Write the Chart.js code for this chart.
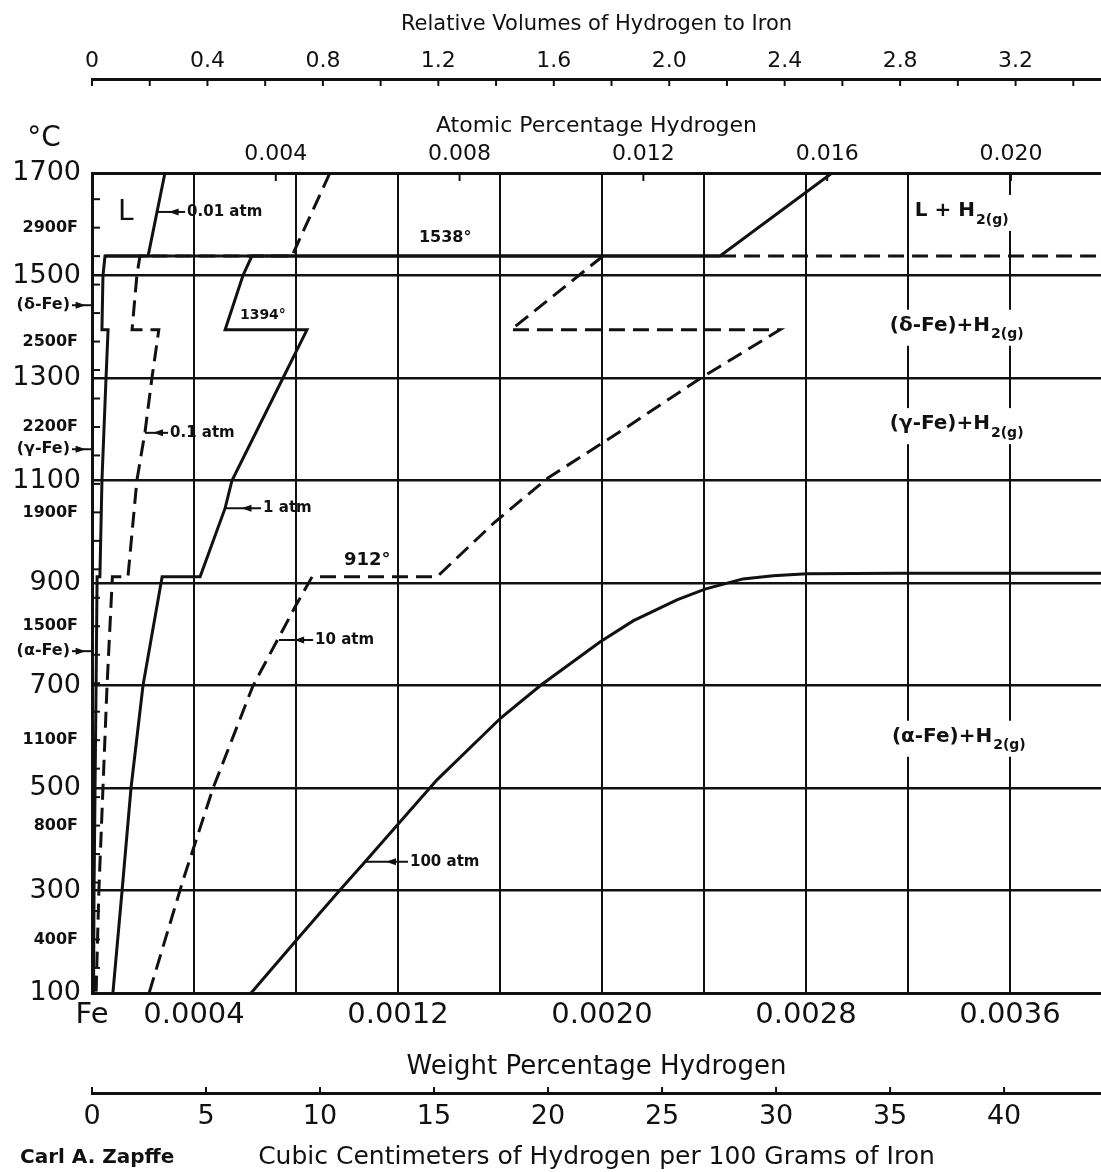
<!DOCTYPE html>
<html>
<head>
<meta charset="utf-8">
<title>Solubility of hydrogen in iron</title>
<script src="https://cdn.jsdelivr.net/npm/chart.js@4.4.1/dist/chart.umd.min.js"></script>
<style>
  html, body { margin: 0; padding: 0; background: #fff; }
  #wrap { width: 1101px; height: 1172px; position: relative; }
</style>
</head>
<body>
<div id="wrap"><canvas id="chart"></canvas></div>
<script>
const INK = '#111';
const FONT = '"DejaVu Sans", Lato, sans-serif';

// --- axis ranges and tick labels ---
const weightMax = 0.003957;   // weight % H at the right edge of the frame
const weightTicks = [0, 0.0004, 0.0008, 0.0012, 0.0016, 0.0020, 0.0024, 0.0028, 0.0032, 0.0036];
const weightLabels = ['Fe', '0.0004', '', '0.0012', '', '0.0020', '', '0.0028', '', '0.0036'];
const atomicMax = 0.02196;
const atomicTicks = [0.004, 0.008, 0.012, 0.016, 0.020];
const atomicLabels = ['0.004', '0.008', '0.012', '0.016', '0.020'];
const volumeMax = 3.496;
const volumeTicks = [0, 0.2, 0.4, 0.6, 0.8, 1.0, 1.2, 1.4, 1.6, 1.8, 2.0, 2.2, 2.4, 2.6, 2.8, 3.0, 3.2, 3.4];
const volumeLabels = ['0', '', '0.4', '', '0.8', '', '1.2', '', '1.6', '', '2.0', '', '2.4', '', '2.8', '', '3.2', ''];
const ccMax = 44.25;
const ccTicks = [0, 5, 10, 15, 20, 25, 30, 35, 40];
const ccLabels = ['0', '5', '10', '15', '20', '25', '30', '35', '40'];
const tempTicks = [100, 300, 500, 700, 900, 1100, 1300, 1500, 1700];
const fahrTicks = [400, 800, 1100, 1500, 1900, 2200, 2500, 2900];
const fahrMinor = [300, 400, 500, 600, 700, 800, 900, 1000, 1100, 1200, 1300, 1400, 1500, 1600,
                   1700, 1800, 1900, 2000, 2100, 2200, 2300, 2400, 2500, 2600, 2700, 2800, 2900, 3000];

// --- isobars: weight % H against temperature (°C) ---
const p001W = [0.000286, 0.000220, 0.000051, 0.000043, 0.000039, 0.000063, 0.000055, 0.000039, 0.000031, 0.000020, 0.000016, 0.000012, 0.000008, 0.000006];
const p001T = [1700, 1538, 1538, 1500, 1394, 1394, 1300, 1100, 912, 912, 700, 500, 300, 100];

const p01W = [0.000933, 0.000784, 0.000188, 0.000176, 0.000157, 0.000262, 0.000235, 0.000208, 0.000176, 0.000141, 0.000080, 0.000059, 0.000043, 0.000027, 0.000016];
const p01T = [1700, 1538, 1538, 1500, 1394, 1394, 1300, 1195, 1100, 912, 912, 700, 500, 300, 100];

const p1W = [0.002902, 0.002463, 0.000627, 0.000592, 0.000522, 0.000843, 0.000749, 0.000549, 0.000522, 0.000424, 0.000275, 0.000200, 0.000153, 0.000118, 0.000082];
const p1T = [1700, 1538, 1538, 1500, 1394, 1394, 1300, 1100, 1046, 912, 912, 700, 500, 300, 100];

const p10W = [0.002004, 0.001643, 0.002698, 0.002388, 0.002079, 0.001788, 0.001580, 0.001353, 0.000863, 0.000796, 0.000631, 0.000475, 0.000357, 0.000224];
const p10T = [1538, 1394, 1394, 1300, 1198, 1105, 1019, 912, 912, 853, 699, 500, 320, 100];

const p100W = [0.003960, 0.003169, 0.002804, 0.002671, 0.002553, 0.002404, 0.002294, 0.002122, 0.001992, 0.001761, 0.001604, 0.001353, 0.001071, 0.000969, 0.000808, 0.000624];
const p100T = [919, 919, 918, 914, 908, 888, 867, 826, 785, 701, 637, 516, 356, 299, 207, 100];

// melting isotherm: solid part, then dashed to the edge
const melt = 1538;
const meltSolidW = [0.000051, 0.002463];
const meltDashW = [0.002463, 0.003960];

// --- notes ---
const curveNotes = [
  { text: '0.01 atm', w: 0.000373, t: 1624, from: 0.000259 },
  { text: '0.1 atm', w: 0.000306, t: 1193, from: 0.000208 },
  { text: '1 atm', w: 0.000671, t: 1046, from: 0.000522 },
  { text: '10 atm', w: 0.000875, t: 789, from: 0.000733 },
  { text: '100 atm', w: 0.001247, t: 356, from: 0.001071 }
];
const plainNotes = [
  { text: 'L', w: 0.000102, t: 1622, size: 28, bold: false },
  { text: '1538°', w: 0.001282, t: 1573, size: 16, bold: true },
  { text: '1394°', w: 0.000580, t: 1423, size: 14, bold: true },
  { text: '912°', w: 0.000988, t: 945, size: 18, bold: true }
];
const phaseNotes = [
  { main: 'L + H', w: 0.003227, t: 1626 },
  { main: '(δ-Fe)+H', w: 0.003129, t: 1402 },
  { main: '(γ-Fe)+H', w: 0.003129, t: 1210 },
  { main: '(α-Fe)+H', w: 0.003137, t: 600 }
];
const sideNotes = [
  { text: '(δ-Fe)', t: 1442 },
  { text: '(γ-Fe)', t: 1161 },
  { text: '(α-Fe)', t: 767 }
];

function pts(ws, ts) { return ws.map((w, i) => ({ x: w, y: ts[i] })); }
function line(data, dashed) {
  return {
    data, showLine: true, pointRadius: 0, borderColor: INK, borderWidth: 3,
    borderDash: dashed ? [16, 8] : [], fill: false, tension: 0
  };
}
function setTicks(values) { return s => { s.ticks = values.map(v => ({ value: v })); }; }
function font(size, bold) { return { family: FONT, size, weight: bold ? 'bold' : 'normal' }; }

// Fahrenheit labels share the column of the °C labels: right edge at x = 78
const fahrFont = `bold 16px ${FONT}`;
const measureCtx = document.createElement('canvas').getContext('2d');
measureCtx.font = fahrFont;
const fahrWidest = Math.max(...fahrTicks.map(v => measureCtx.measureText(v + 'F').width));

function leader(ctx, xTip, xTail, yy) {
  ctx.beginPath(); ctx.moveTo(xTail, yy); ctx.lineTo(xTip, yy); ctx.stroke();
  const dir = Math.sign(xTip - xTail);
  const hx = xTail + (xTip - xTail) * 0.35;
  ctx.beginPath();
  ctx.moveTo(hx + dir * 7, yy);
  ctx.lineTo(hx - dir * 3, yy - 3.5);
  ctx.lineTo(hx - dir * 3, yy + 3.5);
  ctx.closePath(); ctx.fill();
}

const extras = {
  id: 'extras',
  afterDraw(chart) {
    const { ctx, chartArea: a, scales: s } = chart;
    ctx.save();
    ctx.strokeStyle = INK;
    ctx.fillStyle = INK;
    ctx.lineWidth = 2;
    const seg = (x1, y1, x2, y2) => { ctx.beginPath(); ctx.moveTo(x1, y1); ctx.lineTo(x2, y2); ctx.stroke(); };

    // tick marks the library would draw on the wrong side
    s.xrv.ticks.forEach(t => { const px = s.xrv.getPixelForValue(t.value); seg(px, s.xrv.bottom, px, s.xrv.bottom + 7); });
    s.xat.ticks.forEach(t => { const px = s.xat.getPixelForValue(t.value); seg(px, a.top, px, a.top + 8); });
    s.xcc.ticks.forEach(t => { const px = s.xcc.getPixelForValue(t.value); seg(px, s.xcc.top, px, s.xcc.top - 6); });
    fahrMinor.forEach(f => { const py = s.yF.getPixelForValue(f); seg(a.left, py, a.left + 8, py); });

    ctx.textBaseline = 'middle';
    ctx.textAlign = 'left';

    // curve labels with leaders
    ctx.font = `bold 15px ${FONT}`;
    curveNotes.forEach(n => {
      const px = s.x.getPixelForValue(n.w), py = s.y.getPixelForValue(n.t);
      leader(ctx, s.x.getPixelForValue(n.from), px - 2, py);
      ctx.fillText(n.text, px, py);
    });

    plainNotes.forEach(n => {
      ctx.font = `${n.bold ? 'bold ' : ''}${n.size}px ${FONT}`;
      ctx.fillText(n.text, s.x.getPixelForValue(n.w), s.y.getPixelForValue(n.t));
    });

    // phase fields, with H2(g) subscript
    phaseNotes.forEach(n => {
      const px = s.x.getPixelForValue(n.w), py = s.y.getPixelForValue(n.t);
      ctx.font = `bold 20px ${FONT}`;
      const w1 = ctx.measureText(n.main).width;
      ctx.font = `bold 14px ${FONT}`;
      const w2 = ctx.measureText('2(g)').width;
      ctx.fillStyle = '#fff';
      ctx.fillRect(px - 4, py - 16, w1 + w2 + 10, 36);
      ctx.fillStyle = INK;
      ctx.font = `bold 20px ${FONT}`;
      ctx.fillText(n.main, px, py);
      ctx.font = `bold 14px ${FONT}`;
      ctx.fillText('2(g)', px + w1 + 1, py + 9);
    });

    // phase names beside the temperature axis
    ctx.font = `bold 16px ${FONT}`;
    ctx.textAlign = 'right';
    sideNotes.forEach(n => {
      const py = s.y.getPixelForValue(n.t);
      ctx.fillText(n.text, 70, py);
      leader(ctx, a.left - 1, 72, py);
    });

    ctx.textAlign = 'center';
    ctx.font = `28px ${FONT}`;
    ctx.fillText('°C', 44, 139);
    ctx.textAlign = 'left';
    ctx.font = `bold 20px ${FONT}`;
    ctx.fillText('Carl A. Zapffe', 20, 1158);
    ctx.restore();
  }
};

new Chart(document.getElementById('chart'), {
  type: 'scatter',
  data: {
    datasets: [
      line(pts(meltSolidW, [melt, melt]), false),
      line(pts(meltDashW, [melt, melt]), true),
      line(pts(p001W, p001T), false),
      line(pts(p01W, p01T), true),
      line(pts(p1W, p1T), false),
      line(pts(p10W, p10T), true),
      line(pts(p100W, p100T), false)
    ]
  },
  options: {
    responsive: true,
    maintainAspectRatio: false,
    animation: false,
    layout: { padding: 0 },
    plugins: { legend: { display: false }, tooltip: { enabled: false } },
    scales: {
      x: {
        type: 'linear', position: 'bottom', weight: 0, min: 0, max: weightMax,
        afterBuildTicks: setTicks(weightTicks),
        afterFit: s => { s.height = 100; },
        grid: { color: INK, lineWidth: 2, drawTicks: false },
        border: { display: true, color: INK, width: 3 },
        ticks: { autoSkip: false, maxRotation: 0, padding: 5, color: INK, font: font(29), callback: (v, i) => weightLabels[i] },
        title: { display: true, text: 'Weight Percentage Hydrogen', color: INK, font: font(26), padding: { top: 0, bottom: 10 } }
      },
      xcc: {
        type: 'linear', position: 'bottom', weight: 1, min: 0, max: ccMax,
        afterBuildTicks: setTicks(ccTicks),
        afterFit: s => { s.height = 79; },
        grid: { display: true, drawOnChartArea: false, drawTicks: false, color: INK },
        border: { display: true, color: INK, width: 3 },
        ticks: { autoSkip: false, maxRotation: 0, padding: 8, color: INK, font: font(27), callback: (v, i) => ccLabels[i] },
        title: { display: true, text: 'Cubic Centimeters of Hydrogen per 100 Grams of Iron', color: INK, font: font(25), padding: { top: 0, bottom: 0 } }
      },
      xat: {
        type: 'linear', position: 'top', weight: 0, min: 0, max: atomicMax,
        afterBuildTicks: setTicks(atomicTicks),
        afterFit: s => { s.height = 94; },
        grid: { display: true, drawOnChartArea: false, drawTicks: false, color: INK },
        border: { display: true, color: INK, width: 3 },
        ticks: { autoSkip: false, maxRotation: 0, padding: 6, color: INK, font: font(22), callback: (v, i) => atomicLabels[i] },
        title: { display: true, text: 'Atomic Percentage Hydrogen', color: INK, font: font(22), padding: { top: 34, bottom: 0 } }
      },
      xrv: {
        type: 'linear', position: 'top', weight: 1, min: 0, max: volumeMax,
        afterBuildTicks: setTicks(volumeTicks),
        afterFit: s => { s.height = 79; },
        grid: { display: true, drawOnChartArea: false, drawTicks: false, color: INK },
        border: { display: true, color: INK, width: 3 },
        ticks: { autoSkip: false, maxRotation: 0, padding: 5, color: INK, font: font(22), callback: (v, i) => volumeLabels[i] },
        title: { display: true, text: 'Relative Volumes of Hydrogen to Iron', color: INK, font: font(21), padding: { top: 12, bottom: 0 } }
      },
      y: {
        type: 'linear', position: 'left', weight: 1, min: 100, max: 1700,
        afterBuildTicks: setTicks(tempTicks),
        afterFit: s => { s.width = 92; },
        grid: { color: INK, lineWidth: 2.5, drawTicks: false },
        border: { display: true, color: INK, width: 3 },
        ticks: { autoSkip: false, padding: 11, color: INK, font: font(27), callback: v => String(v) }
      },
      yF: {
        type: 'linear', position: 'left', weight: 0, min: 212, max: 3092,
        afterBuildTicks: setTicks(fahrTicks),
        afterFit: s => { s.width = 0; },
        grid: { display: false, drawTicks: false },
        border: { display: false },
        ticks: {
          autoSkip: false, mirror: true, crossAlign: 'far', padding: -14 - fahrWidest,
          color: INK, font: font(16, true), callback: v => v + 'F'
        }
      }
    }
  },
  plugins: [extras]
});
</script>
</body>
</html>
